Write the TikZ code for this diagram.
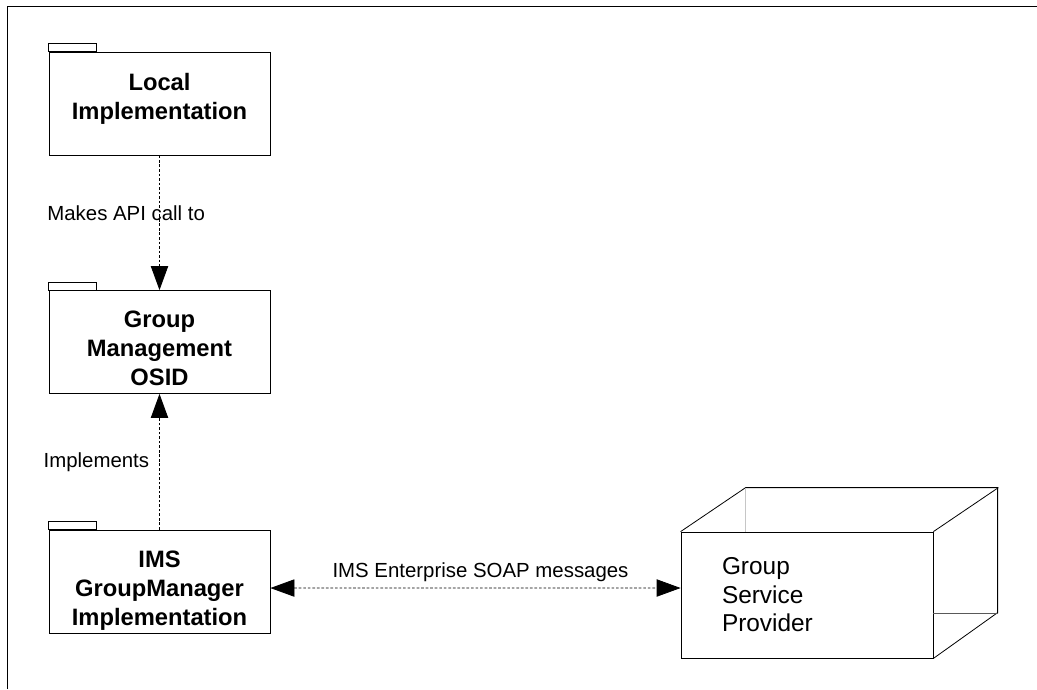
\documentclass[tikz,border=0pt]{standalone}
\usepackage{fontspec}
\setmainfont{Liberation Sans}
\usetikzlibrary{arrows.meta}
\tikzset{
  every picture/.style={
    line width=0.6pt,
    >={Triangle[width=13pt, length=18pt]}
  },
  package/.style={
    draw, rectangle, minimum width=165.75pt, minimum height=77.25pt,
    inner sep=0pt
  },
  message/.style={
    dash pattern=on 2pt off 1.4pt, line width=0.6pt
  }
}
\newcommand\pkgname[1]{\parbox[c][77pt][t]{160pt}{\vspace*{15.5pt}\centering
  \fontsize{17.8}{21.75}\selectfont\bfseries #1}}

\begin{document}
\begin{tikzpicture}[
      x=0.75pt, y=-0.75pt,
      lbl/.style={font=\fontsize{15.3}{18}\selectfont, inner sep=0pt},
      node3d/.style={draw, rectangle, minimum width=189pt, minimum height=94.5pt,
        text width=127.5pt, inner xsep=30.75pt, align=left,
        font=\fontsize{18.3}{21.4}\selectfont}
    ]
      \useasboundingbox (0,0) rectangle (1037,689);
      \draw (7,689) -- (7,6) -- (1037,6);
      \node [package] (local) at (159.5,103.5) {\pkgname{Local\\Implementation}};
      \node [package] (osid) at (159.5,342) {\pkgname{Group\\Management\\OSID}};
      \node [package] (ims) at (159.5,581.5) {\pkgname{IMS\\GroupManager\\Implementation}};
      \foreach \p in {local,osid,ims}
        \draw (\p.north west) rectangle ++(48,-8);
      \node [node3d] (gsp) at (807,595) {Group\\Service\\Provider};
      \draw (gsp.north west) -- ++(65,-44) -- ++(252,0) -- ++(0,125) -- (gsp.south east);
      \draw (gsp.north east) -- ++(65,-44);
      \draw [gray!45] (gsp.north west) ++(65,-44) -- ++(0,44);
      \draw [black!65] (gsp.south east) ++(65,-45) -- ++(-65,0);
      \draw [message,->] (local) -- (osid) node [lbl, pos=0.426, xshift=-25pt] {Makes API call to};
      \draw [message,->] (ims) -- (osid) node [lbl, pos=0.5, left=7.5pt] {Implements};
      \draw [message,<->] ([yshift=-4.9pt]ims.east) -- ([yshift=5.25pt]gsp.west)
        node [lbl, midway, above=4.5pt, xshift=3.75pt] {IMS Enterprise SOAP messages};
    \end{tikzpicture}
\end{document}
